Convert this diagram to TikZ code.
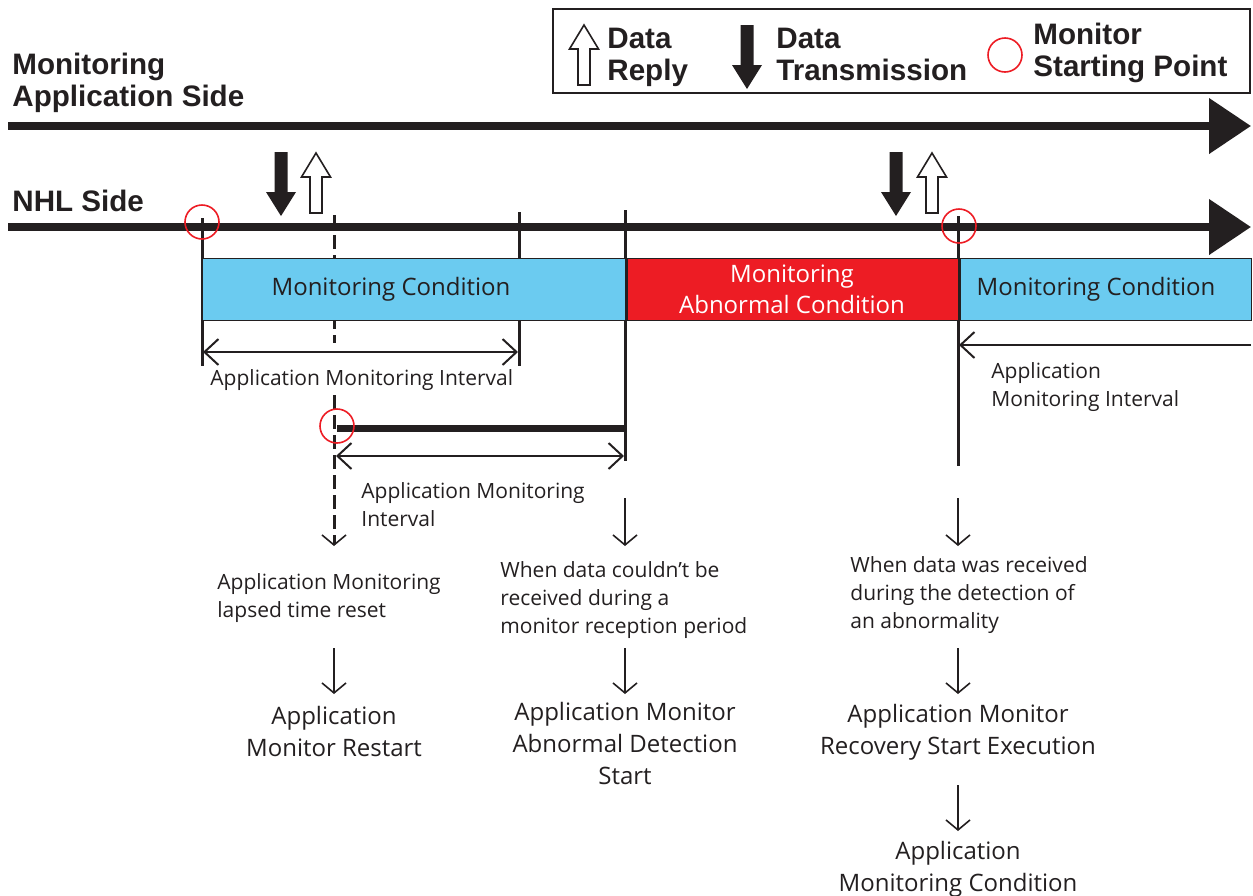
\documentclass[tikz,border=0pt]{standalone}
\usepackage{fontspec}
\setmainfont{Open Sans}
\newfontfamily\headfont{Liberation Sans}
\usetikzlibrary{arrows.meta,positioning,calc}
\definecolor{ink}{HTML}{231F20}
\definecolor{condblue}{HTML}{6BCBF0}
\definecolor{abnred}{HTML}{ED1C24}
\tikzset{
  timeaxis/.style={line width=4pt, draw=ink, -{Triangle[length=21pt,width=27pt]}},
  timetick/.style={line width=1.5pt, draw=ink},
  condbox/.style={rectangle, draw=ink, line width=0.5pt, fill=#1, text=ink, anchor=north west,
                  inner sep=0pt, minimum height=31pt, align=center, font=\fontsize{12}{15.5}\selectfont},
  bandlbl/.style={inner sep=0pt, align=center, text=ink, font=\fontsize{12}{15.5}\selectfont},
  intervalarr/.style={line width=1pt, draw=ink, {Straight Barb[length=7pt,width=13pt]}-{Straight Barb[length=7pt,width=13pt]}},
  halfinterval/.style={line width=1pt, draw=ink, -{Straight Barb[length=7pt,width=13pt]}},
  stepdown/.style={line width=0.8pt, draw=ink, -{Straight Barb[length=5pt,width=12pt]}},
  startpt/.style={draw=abnred, line width=0.8pt},
  headlbl/.style={anchor=north west, inner sep=0pt, align=left, text=ink,
                  font=\headfont\bfseries\fontsize{14.8}{16}\selectfont},
  note/.style={anchor=north west, inner sep=0pt, align=left, text=ink, font=\fontsize{10.5}{14}\selectfont},
  outcome/.style={anchor=north, inner sep=0pt, align=center, text=ink, font=\fontsize{12}{16}\selectfont},
  sendarrow/.pic={\fill[ink] (0,0) -- (15,-24) -- (6.5,-24) -- (6.5,-64) -- (-6.5,-64) -- (-6.5,-24) -- (-15,-24) -- cycle;},
  replyarrow/.pic={\draw[ink, fill=white, line width=0.8pt] (0,0) -- (14.5,24) -- (6,24) -- (6,60) -- (-6,60) -- (-6,24) -- (-14.5,24) -- cycle;},
}
\begin{document}
\begin{tikzpicture}[x=0.5pt, y=-0.5pt]
  \useasboundingbox (0,0) rectangle (1253,895);
  % legend
  \node[draw=ink, line width=1pt, anchor=north west, inner sep=0pt, minimum width=348.5pt, minimum height=42pt] (legend) at (552,8) {};
  \pic at (584,25) {replyarrow};
  \node[headlbl] (lgreply) at (607,28) {Data\\Reply};
  \pic at (747,89) {sendarrow};
  \node[headlbl] (lgsend) at (776,28) {Data\\Transmission};
  \draw[startpt] (1005,55) circle[radius=17];
  \node[headlbl] (lgstart) at (1033,23) {Monitor\\Starting Point};

  % both sides
  \node[headlbl] (appside) at (12,53) {Monitoring\\Application Side};
  \node[headlbl] (nhlside) at (12,190) {NHL Side};
  \coordinate (appL) at (8,126); \coordinate (appR) at (1251,126);
  \coordinate (nhlL) at (8,227); \coordinate (nhlR) at (1251,227);
  \draw[timeaxis] (appL) -- (appR);
  \draw[timeaxis] (nhlL) -- (nhlR);

  % data sent / replied
  \pic at (281,216) {sendarrow};
  \pic at (316,153) {replyarrow};
  \pic at (896,216) {sendarrow};
  \pic at (932,153) {replyarrow};

  % time marks
  \foreach \n/\x/\ya/\yb in {m0/202/218/366, m1/519/212/366, m2/625/210/461, m3/958/216/466} {
    \coordinate (\n top) at (\x,\ya);
    \coordinate (\n bot) at (\x,\yb);
    \draw[timetick] (\n top) -- (\n bot);
  }
  \coordinate (rst top) at (334,215); \coordinate (rst gap) at (334,343);
  \coordinate (rst on) at (334,395);  \coordinate (rst end) at (334,546);
  \draw[timetick, dash pattern=on 7pt off 3pt] (rst top) -- (rst gap);
  \draw[timetick, dash pattern=on 7pt off 3pt, -{Straight Barb[length=5pt,width=12pt,line width=0.8pt]}] (rst on) -- (rst end);

  % condition bands
  \node[condbox=condblue, minimum width=211.5pt] (cond1) at (202,258) {};
  \node[bandlbl, xshift=-11.5pt] (cond1lbl) at (cond1.center) {Monitoring Condition};
  \node[condbox=abnred, text=white, minimum width=166.5pt] (abn) at (625,258) {Monitoring\\Abnormal Condition};
  \node[condbox=condblue, minimum width=146.5pt] (cond2) at (958,258) {};
  \node[bandlbl, xshift=-4.5pt] (cond2lbl) at (cond2.center) {Monitoring Condition};
  \draw[timetick] (cond1.north east) -- (cond1.south east);
  \draw[timetick] (abn.north east) -- (abn.south east);

  % intervals
  \draw[intervalarr] (203,352) -- (518,352);
  \node[note] (ival1) at (210,369) {Application Monitoring Interval};
  \draw[line width=3.5pt, ink] (337,428) -- (m2bot |- 0,428);
  \draw[intervalarr] (336,456) -- (624,456);
  \node[note] (ival2) at (361,482) {Application Monitoring\\Interval};
  \draw[halfinterval] (1251,345) -- (959,345);
  \node[note] (ival3) at (991,362) {Application\\Monitoring Interval};

  % starting points
  \draw[startpt] (202,222) circle[radius=17];
  \draw[startpt] (959,226) circle[radius=17];
  \draw[startpt] (337,426) circle[radius=17];

  % what follows
  \coordinate (lost end) at (625,546); \coordinate (recv end) at (958,546);
  \draw[stepdown] (625,498) -- (lost end);
  \draw[stepdown] (958,498) -- (recv end);
  \node[note] (resetnote) at (217,573) {Application Monitoring\\lapsed time reset};
  \node[note] (lostnote) at (500,561) {When data couldn't be\\received during a\\monitor reception period};
  \node[note] (recvnote) at (850,556) {When data was received\\during the detection of\\an abnormality};

  \coordinate (r1) at (334,694); \coordinate (r2) at (625,694);
  \coordinate (r3) at (958,694); \coordinate (r4) at (958,831);
  \draw[stepdown] (334,648) -- (r1);
  \draw[stepdown] (625,648) -- (r2);
  \draw[stepdown] (958,648) -- (r3);
  \draw[stepdown] (958,785) -- (r4);
  \node[outcome, below=6pt of r1] (restart) {Application\\Monitor Restart};
  \node[outcome, below=4pt of r2] (abnstart) {Application Monitor\\Abnormal Detection\\Start};
  \node[outcome, below=5pt of r3] (recovery) {Application Monitor\\Recovery Start Execution};
  \node[outcome, below=5pt of r4] (backcond) {Application\\Monitoring Condition};
\end{tikzpicture}
\end{document}
